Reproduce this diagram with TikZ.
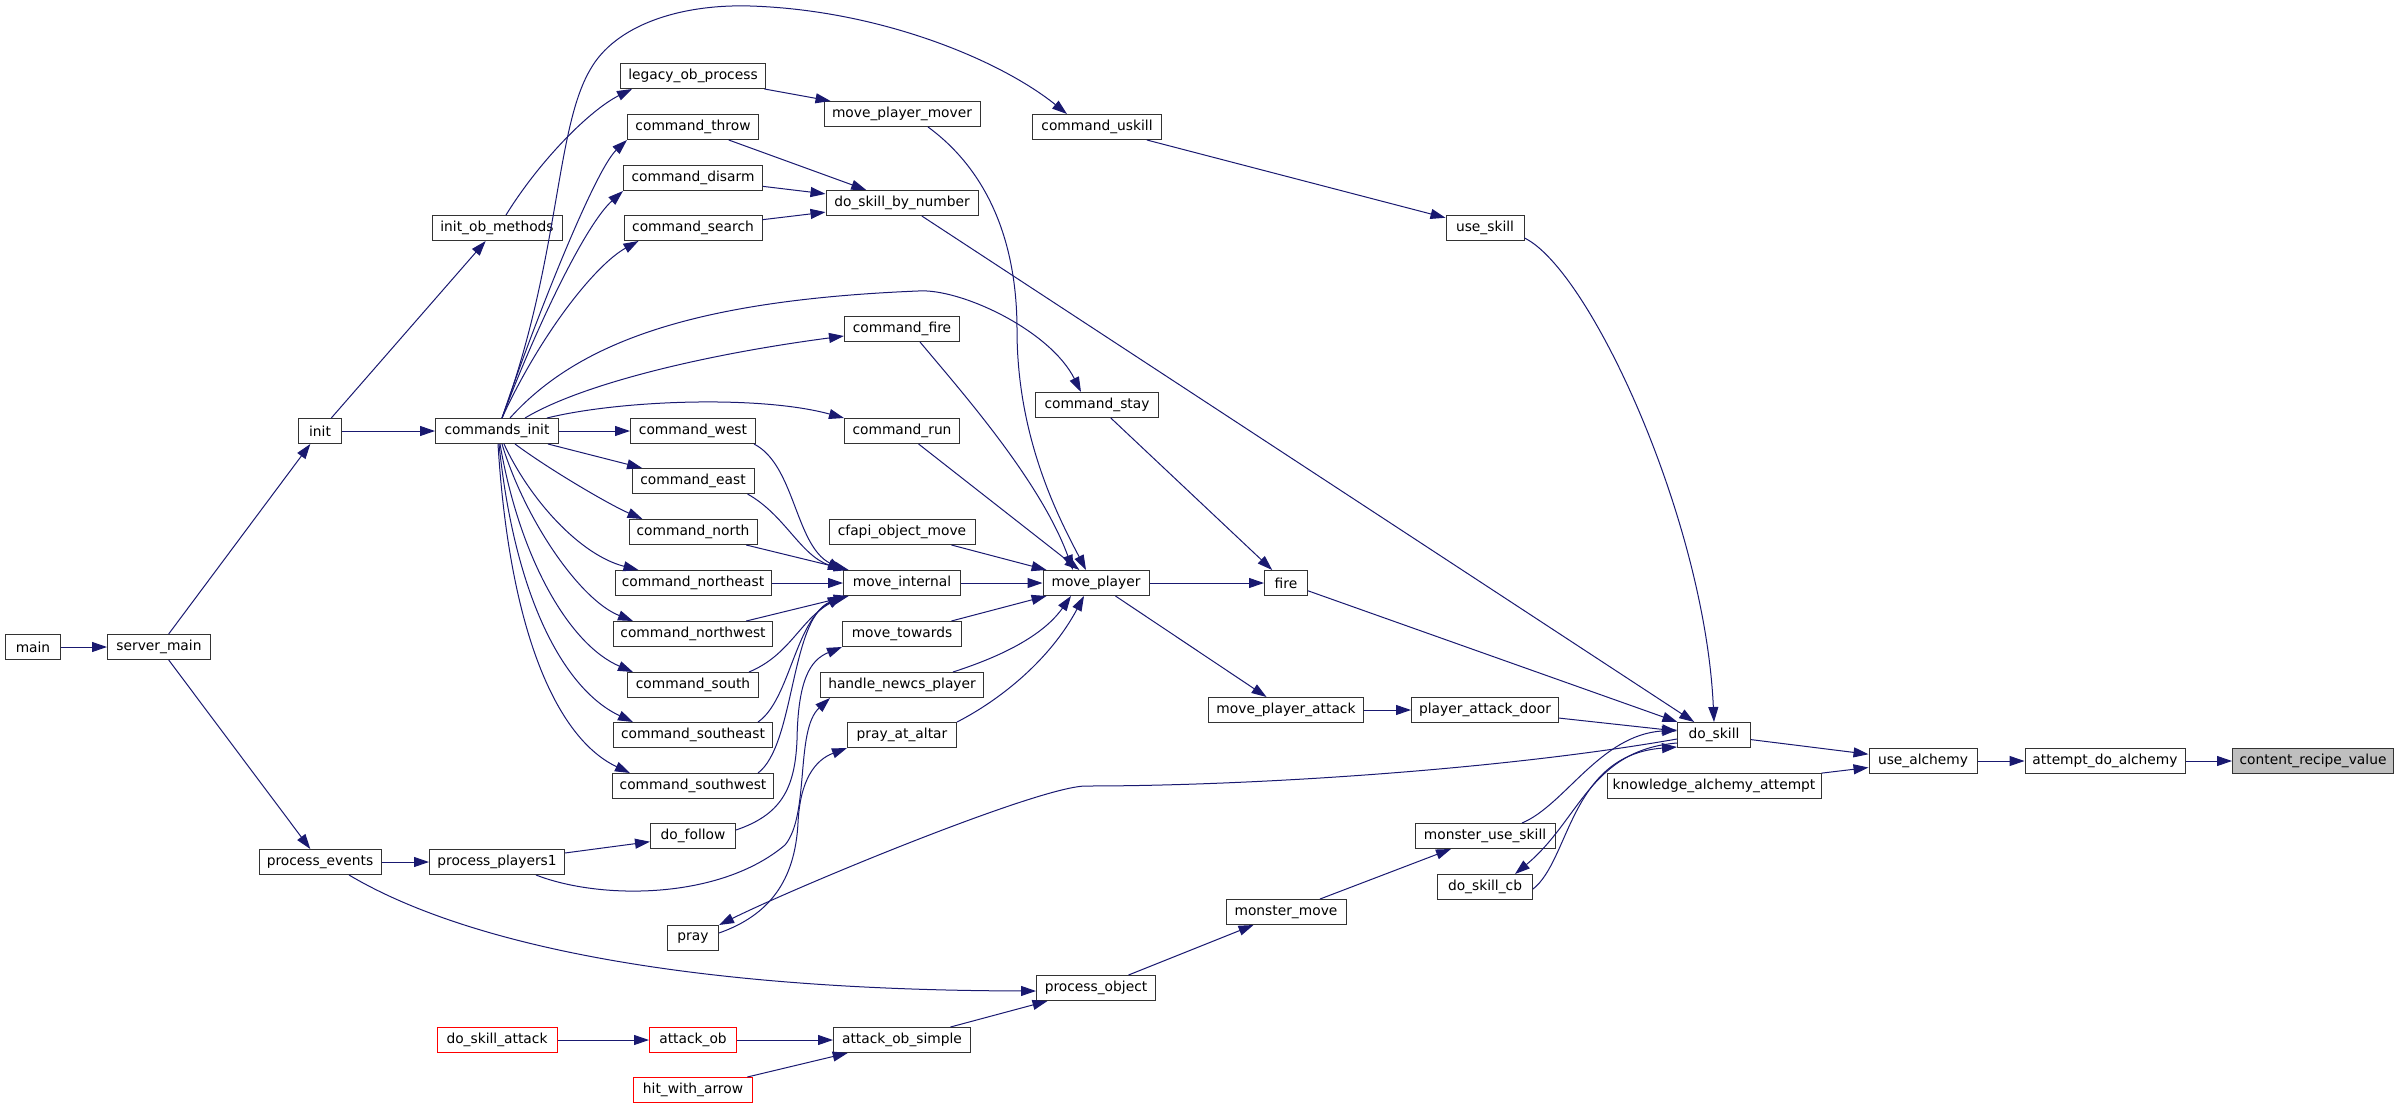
\documentclass[tikz,border=0pt]{standalone}
\usepackage{fontspec}
\setmainfont{DejaVu Sans}
\usetikzlibrary{arrows.meta}
\definecolor{edgeblue}{HTML}{191970}
\definecolor{focusgray}{HTML}{BFBFBF}
\tikzset{
	fn/.style={draw=black!80,line width=1pt,fill=white,minimum height=25pt,inner sep=0pt,font=\fontsize{13.8}{16}\selectfont},
	fnred/.style={fn,draw=red},
	fnfocus/.style={fn,fill=focusgray},
	call/.style={draw=edgeblue,line width=1pt,-{Triangle[length=15pt,width=10pt]}},
}
\begin{document}
\begin{tikzpicture}[x=1pt,y=-1pt]
	\useasboundingbox (0,0) rectangle (2400,1108);
	\foreach \n/\x/\y/\w/\t in {main/33/647/55/main,srvmain/159/647/103/server\_main,init/320/431/43/init,
		procevents/320/862/122/process\_events,cmdinit/497/431/123/commands\_init,initob/497/228/130/init\_ob\_methods,
		procplayers/497/862/135/process\_players1,legacy/693/76/145/legacy\_ob\_process,throw/693/127/131/command\_throw,
		disarm/693/178/139/command\_disarm,search/693/228/138/command\_search,cwest/693/431/125/command\_west,
		ceast/693/481/122/command\_east,cnorth/693/532/128/command\_north,cne/693/583/156/command\_northeast,
		cnw/693/634/159/command\_northwest,csouth/693/685/131/command\_south,cse/693/735/159/command\_southeast,
		csw/693/786/161/command\_southwest,follow/693/836/85/do\_follow,pray/693/938/51/pray,
		mover/902/114/156/move\_player\_mover,bynumber/902/203/152/do\_skill\_by\_number,cmdfire/902/329/115/command\_fire,
		cmdrun/902/431/115/command\_run,cfapi/902/532/146/cfapi\_object\_move,moveint/902/583/117/move\_internal,
		towards/902/634/119/move\_towards,newcs/902/685/163/handle\_newcs\_player,altar/902/735/109/pray\_at\_altar,
		obsimple/902/1040/137/attack\_ob\_simple,uskill/1097/127/129/command\_uskill,stay/1097/405/123/command\_stay,
		moveplayer/1096/583/106/move\_player,procobject/1096/988/119/process\_object,fire/1286/583/43/fire,
		mpattack/1286/710/155/move\_player\_attack,monmove/1286/912/120/monster\_move,useskill/1485/228/78/use\_skill,
		door/1485/710/147/player\_attack\_door,monskill/1485/836/140/monster\_use\_skill,skillcb/1485/887/95/do\_skill\_cb,
		doskill/1714/735/73/do\_skill,knowledge/1714/786/214/knowledge\_alchemy\_attempt,alchemy/1923/761/108/use\_alchemy,
		attempt/2105/761/160/attempt\_do\_alchemy}
		\node[fn,minimum width=\w pt] (\n) at (\x,\y) {\t};
	\foreach \n/\x/\y/\w/\t in {skillattack/497/1040/120/do\_skill\_attack,attackob/693/1040/87/attack\_ob,hitarrow/693/1090/119/hit\_with\_arrow}
		\node[fnred,minimum width=\w pt] (\n) at (\x,\y) {\t};
	\node[fnfocus,minimum width=161pt] (recipe) at (2313,761) {content\_recipe\_value};
	% straight calls
	\foreach \a/\b in {main/srvmain,srvmain/init,srvmain/procevents,init/initob,init/cmdinit,procevents/procplayers,
		procplayers/follow,cmdinit/cwest,cmdinit/ceast,skillattack/attackob,attackob/obsimple,hitarrow/obsimple,
		legacy/mover,throw/bynumber,disarm/bynumber,search/bynumber,cnorth/moveint,cne/moveint,cnw/moveint,
		cmdrun/moveplayer,cfapi/moveplayer,moveint/moveplayer,towards/moveplayer,obsimple/procobject,moveplayer/fire,
		moveplayer/mpattack,stay/fire,uskill/useskill,procobject/monmove,monmove/monskill,mpattack/door,
		bynumber/doskill,fire/doskill,door/doskill,doskill/alchemy,knowledge/alchemy,alchemy/attempt,attempt/recipe}
		\draw[call] (\a) -- (\b);
	% commands_init fan
	\draw[call] ([xshift=5pt]cmdinit.north) .. controls (560,260) and (555,130) .. (590,70) .. controls (615,25) and (680,4) .. (750,6) .. controls (880,10) and (1000,60) .. ([xshift=-30pt]uskill.north);
	\draw[call] ([xshift=5pt]cmdinit.north) .. controls (535,320) and (595,170) .. (throw.south west);
	\draw[call] ([xshift=5pt]cmdinit.north) .. controls (535,330) and (585,225) .. (disarm.south west);
	\draw[call] ([xshift=5pt]cmdinit.north) .. controls (540,335) and (595,265) .. ([xshift=15pt]search.south west);
	\draw[call] ([xshift=13pt]cmdinit.north) .. controls (580,340) and (700,300) .. (918,291) .. controls (960,288) and (1050,330) .. ([xshift=-16pt]stay.north);
	\draw[call] ([xshift=28pt]cmdinit.north) .. controls (580,385) and (700,355) .. ([yshift=-7pt]cmdfire.west);
	\draw[call] ([xshift=-12pt]cmdinit.north east) .. controls (620,400) and (760,395) .. (cmdrun.north west);
	\draw[call] ([xshift=18pt]cmdinit.south) .. controls (550,470) and (610,505) .. ([xshift=14pt]cnorth.north west);
	\draw[call] ([xshift=7pt]cmdinit.south) .. controls (530,500) and (580,555) .. ([xshift=24pt]cne.north west);
	\draw[call] ([xshift=5pt]cmdinit.south) .. controls (525,520) and (580,600) .. ([xshift=20pt]cnw.north west);
	\draw[call] ([xshift=3pt]cmdinit.south) .. controls (520,560) and (570,645) .. ([xshift=6pt]csouth.north west);
	\draw[call] ([xshift=2pt]cmdinit.south) .. controls (515,600) and (565,690) .. ([xshift=20pt]cse.north west);
	\draw[call] ([xshift=1pt]cmdinit.south) .. controls (510,640) and (560,740) .. ([xshift=18pt]csw.north west);
	\draw[call] ([xshift=9pt]initob.north) .. controls (540,160) and (590,110) .. ([xshift=12pt]legacy.south west);
	% into move_internal
	\draw[call] ([xshift=-2pt]cwest.south east) .. controls (795,465) and (795,545) .. (moveint.north west);
	\draw[call] ([xshift=-7pt]ceast.south east) .. controls (785,515) and (800,555) .. (moveint.north west);
	\draw[call] ([xshift=-10pt]csouth.north east) .. controls (790,655) and (800,620) .. (moveint.south west);
	\draw[call] ([xshift=-15pt]cse.north east) .. controls (790,700) and (795,620) .. (moveint.south west);
	\draw[call] ([xshift=-16pt]csw.north east) .. controls (795,745) and (790,620) .. (moveint.south west);
	% lower left
	\draw[call] ([xshift=29pt]procevents.south) .. controls (450,935) and (650,990) .. ([yshift=-3pt]procobject.west);
	\draw[call] ([xshift=39pt]procplayers.south) .. controls (600,900) and (720,900) .. (785,845) .. controls (810,815) and (795,730) .. ([xshift=10pt]newcs.south west);
	\draw[call] ([yshift=6pt]follow.east) .. controls (780,815) and (795,790) .. (797,740) .. controls (798,680) and (810,660) .. (towards.south west);
	\draw[call] ([yshift=5pt]pray.east) .. controls (770,915) and (795,880) .. (798,823) .. controls (800,780) and (815,760) .. (altar.south west);
	\draw[call] ([yshift=-4pt]doskill.west) .. controls (1500,770) and (1250,786) .. (1086,786) .. controls (1040,786) and (800,885) .. (pray.north east);
	% into move_player and do_skill
	\draw[call] ([xshift=26pt]mover.south) .. controls (980,165) and (1017,230) .. (1017,330) .. controls (1017,440) and (1060,520) .. ([xshift=-10pt]moveplayer.north);
	\draw[call] ([xshift=18pt]cmdfire.south) .. controls (960,390) and (1040,480) .. ([xshift=-23pt]moveplayer.north);
	\draw[call] ([xshift=51pt]newcs.north) .. controls (990,660) and (1040,640) .. ([xshift=-25pt]moveplayer.south);
	\draw[call] (altar.north east) .. controls (1000,700) and (1050,660) .. ([xshift=-12pt]moveplayer.south);
	\draw[call] ([yshift=-10pt]useskill.east) .. controls (1590,270) and (1705,520) .. (doskill.north);
	\draw[call] ([xshift=37pt]monskill.north) .. controls (1565,805) and (1600,735) .. ([yshift=5pt]doskill.west);
	\draw[call] ([yshift=-8pt]doskill.west) .. controls (1590,750) and (1580,820) .. ([xshift=30pt]skillcb.north);
	\draw[call] ([yshift=-2pt]skillcb.east) .. controls (1570,860) and (1570,755) .. ([yshift=-12pt]doskill.west);
\end{tikzpicture}
\end{document}
